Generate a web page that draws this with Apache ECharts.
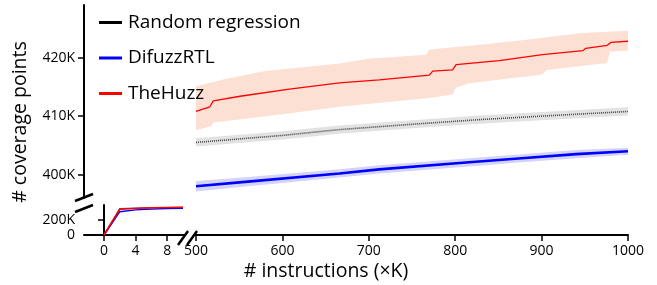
<!DOCTYPE html>
<html>
<head>
<meta charset="utf-8">
<script src="https://cdn.jsdelivr.net/npm/echarts@6/dist/echarts.min.js"></script>
<style>
  html, body { margin: 0; padding: 0; background: #fff; }
  #app { width: 657px; height: 285px; }
</style>
</head>
<body>
<div id="app"></div>
<script>
// legend names
var names = ['Random regression', 'DifuzzRTL', 'TheHuzz'];

// first part of the run (x in K instructions, y in coverage points)
var earlyRandom = [[0, 0], [2, 350000], [4, 358000], [6, 362000], [8, 365000], [10, 367000]];
var earlyDifuzz = [[0, 0], [2, 311000], [4, 335000], [6, 345000], [8, 352000], [10, 356000]];
var earlyHuzz = [[0, 0], [2, 343000], [4, 355000], [6, 362000], [8, 366000], [10, 369000]];

// long run, mean values (K coverage points)
var randomMean = [[500, 405.5], [600, 406.7], [666, 407.7], [759, 408.7], [828, 409.4], [900, 410.0], [1000, 410.8]];
var randomLo = [[500, 404.8], [600, 406.0], [666, 407.0], [759, 408.0], [828, 408.7], [900, 409.3], [1000, 410.1]];
var randomHi = [[500, 406.2], [600, 407.4], [666, 408.4], [759, 409.4], [828, 410.1], [900, 410.7], [1000, 411.5]];

var difuzzMean = [[500, 398.0], [560, 398.8], [666, 400.2], [712, 400.9], [816, 402.1], [877, 402.8], [940, 403.5], [1000, 404.0]];
var difuzzLo = [[500, 397.1], [560, 398.0], [666, 399.5], [712, 400.2], [816, 401.4], [877, 402.1], [940, 402.8], [1000, 403.4]];
var difuzzHi = [[500, 398.9], [560, 399.6], [666, 400.9], [712, 401.6], [816, 402.8], [877, 403.5], [940, 404.2], [1000, 404.6]];

var huzzMean = [[500, 410.8], [516, 411.6], [520, 412.6], [551, 413.4], [608, 414.6], [666, 415.7], [712, 416.2],
  [770, 417.0], [774, 417.7], [797, 417.9], [801, 418.8], [851, 419.5], [901, 420.5], [948, 421.2], [951, 421.6],
  [976, 422.1], [980, 422.6], [1000, 422.8]];
var huzzLo = [[500, 407.6], [518, 408.3], [520, 408.9], [600, 410.3], [666, 411.6], [770, 413.1], [797, 413.7],
  [801, 414.9], [816, 415.6], [901, 417.1], [906, 417.9], [976, 419.1], [979, 421.0], [1000, 421.2]];
var huzzHi = [[500, 415.1], [530, 416.2], [580, 417.7], [666, 419.0], [700, 419.8], [766, 420.5], [770, 421.4],
  [828, 422.2], [880, 423.0], [947, 424.2], [1000, 424.6]];

// x / y ticks
var earlyTicks = [0, 4, 8];
var earlyYTicks = [0, 200000];
var upperYTicks = [400000, 410000, 420000];

var FONT = '"Open Sans", sans-serif';

function toPts(arr) {
  return arr.map(function (p) { return [p[0], p[1] * 1000]; });
}

function band(lo, hi, color) {
  var upper = toPts(hi), lower = toPts(lo);
  return {
    type: 'custom',
    xAxisIndex: 0,
    yAxisIndex: 0,
    silent: true,
    z: 1,
    data: [0],
    renderItem: function (params, api) {
      var pts = upper.map(function (p) { return api.coord(p); });
      var back = lower.slice().reverse().map(function (p) { return api.coord(p); });
      return {
        type: 'polygon',
        shape: { points: pts.concat(back) },
        style: { fill: color, stroke: null }
      };
    }
  };
}

function line(name, data, color, width, grid, extra) {
  var s = {
    name: name,
    type: 'line',
    xAxisIndex: grid,
    yAxisIndex: grid,
    data: data,
    showSymbol: false,
    symbol: 'none',
    z: 3,
    itemStyle: { color: color },
    lineStyle: { color: color, width: width },
    animation: false
  };
  if (extra) for (var k in extra) s.lineStyle[k] = extra[k];
  return s;
}

var axisLine = { show: true, lineStyle: { color: '#000', width: 2 } };
var axisTick = { show: true, length: 6, lineStyle: { color: '#000', width: 1.5 } };
var labelStyle = { color: '#000', fontSize: 14, fontFamily: FONT };
var legendColors = ['#000', '#0000ff', '#ff0000'];

var chart = echarts.init(document.getElementById('app'), null, { renderer: 'canvas' });

var option = {
  animation: false,
  backgroundColor: '#fff',
  grid: [
    { left: 196, right: 29, top: 5, height: 193 },
    { left: 84, top: 205, width: 101, height: 30 }
  ],
  xAxis: [
    {
      type: 'value', gridIndex: 0, min: 500, max: 1000, interval: 100,
      offset: 37, splitLine: { show: false },
      axisLine: axisLine, axisTick: axisTick,
      axisLabel: Object.assign({ margin: 9, formatter: function (v) { return String(v); } }, labelStyle)
    },
    {
      type: 'value', gridIndex: 1, min: -2.53, max: 10.25,
      splitLine: { show: false },
      axisLine: axisLine,
      axisTick: Object.assign({ customValues: earlyTicks }, axisTick),
      axisLabel: Object.assign({ margin: 9, customValues: earlyTicks }, labelStyle)
    }
  ],
  yAxis: [
    {
      type: 'value', gridIndex: 0, min: 396000, max: 429000,
      offset: 112, splitLine: { show: false },
      axisLine: axisLine,
      axisTick: Object.assign({ customValues: upperYTicks }, axisTick),
      axisLabel: Object.assign({
        margin: 9, customValues: upperYTicks,
        formatter: function (v) { return v / 1000 + 'K'; }
      }, labelStyle)
    },
    {
      type: 'value', gridIndex: 1, min: 0, max: 400000,
      splitLine: { show: false },
      axisLine: axisLine,
      axisTick: Object.assign({ customValues: earlyYTicks }, axisTick),
      axisLabel: Object.assign({
        margin: 9, customValues: earlyYTicks,
        formatter: function (v) { return v === 0 ? '0' : v / 1000 + 'K'; }
      }, labelStyle)
    }
  ],
  legend: {
    data: names.map(function (n, i) { return { name: n, icon: 'rect', itemStyle: { color: legendColors[i] } }; }),
    orient: 'vertical',
    left: 94,
    top: 6,
    itemWidth: 23,
    itemHeight: 3,
    itemGap: 12.5,
    selectedMode: false,
    textStyle: { color: '#000', fontSize: 19, fontFamily: FONT, lineHeight: 23, padding: [0, 0, 0, 1] }
  },
  series: [
    band(huzzLo, huzzHi, '#fde0d4'),
    band(randomLo, randomHi, '#e2e2e2'),
    band(difuzzLo, difuzzHi, '#d4d4fa'),
    line(names[0], toPts(randomMean), '#444', 1.6, 0, { type: [1, 1] }),
    line(names[1], toPts(difuzzMean), '#0000ff', 2.6, 0),
    line(names[2], toPts(huzzMean), '#ff0000', 1.3, 0),
    line(names[0], earlyRandom, '#555', 1.5, 1),
    line(names[1], earlyDifuzz, '#0000ff', 1.5, 1),
    line(names[2], earlyHuzz, '#ff0000', 1.5, 1)
  ],
  graphic: [
    // y axis break
    { type: 'line', shape: { x1: 75, y1: 201, x2: 93, y2: 194 }, style: { stroke: '#000', lineWidth: 2.5 }, z: 100 },
    { type: 'line', shape: { x1: 75, y1: 212, x2: 93, y2: 205 }, style: { stroke: '#000', lineWidth: 2.5 }, z: 100 },
    // x axis break
    { type: 'line', shape: { x1: 178, y1: 245, x2: 188, y2: 231 }, style: { stroke: '#000', lineWidth: 2.5 }, z: 100 },
    { type: 'line', shape: { x1: 187, y1: 245, x2: 197, y2: 231 }, style: { stroke: '#000', lineWidth: 2.5 }, z: 100 },
    {
      type: 'text', z: 100,
      x: 326, y: 271,
      style: { text: '# instructions (\u00d7K)', fill: '#000', font: '19.5px ' + FONT, textAlign: 'center', textVerticalAlign: 'middle' }
    },
    {
      type: 'text', z: 100,
      x: 20, y: 122, rotation: Math.PI / 2,
      style: { text: '# coverage points', fill: '#000', font: '19.5px ' + FONT, textAlign: 'center', textVerticalAlign: 'middle' }
    }
  ]
};

chart.setOption(option);
</script>
</body>
</html>
